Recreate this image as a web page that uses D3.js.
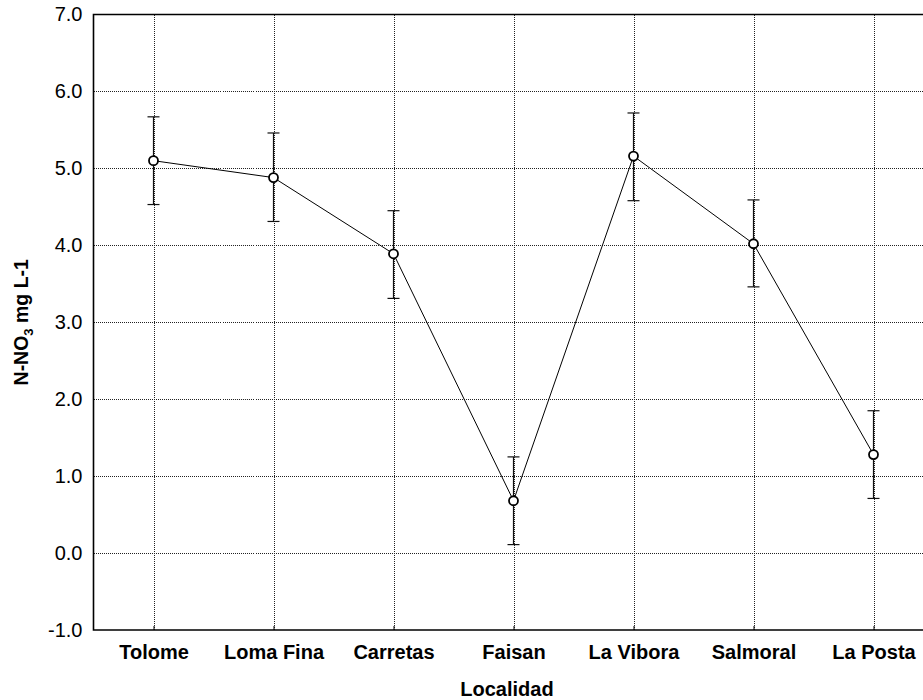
<!DOCTYPE html>
<html>
<head>
<meta charset="utf-8">
<script src="https://cdn.jsdelivr.net/npm/d3@7"></script>
<style>
  html, body { margin: 0; padding: 0; background: #fff; }
  svg { display: block; font-family: "Liberation Sans", Arial, sans-serif; }
</style>
</head>
<body>
<svg id="chart" width="923" height="700"></svg>
<script>
// Nitrate nitrogen (N-NO3) by locality: mean with interval bars
const categories = ["Tolome", "Loma Fina", "Carretas", "Faisan", "La Vibora", "Salmoral", "La Posta"];
const means = [5.10, 4.88, 3.89, 0.68, 5.16, 4.02, 1.28];
const lower = [4.53, 4.31, 3.31, 0.11, 4.58, 3.46, 0.71];
const upper = [5.67, 5.46, 4.45, 1.25, 5.72, 4.59, 1.85];
const yTicks = [-1, 0, 1, 2, 3, 4, 5, 6, 7];

(function draw() {
  const rows = categories.map((c, i) => ({ c, m: means[i], lo: lower[i], hi: upper[i] }));

  const svg = d3.select("#chart");
  const pLeft = 93.5, pRight = 933.5, pTop = 14.5, pBottom = 630;

  const x = d3.scalePoint().domain(categories).range([pLeft, pRight]).padding(0.5);
  const y = d3.scaleLinear().domain([-1, 7]).range([pBottom, pTop]);

  // grid
  const grid = svg.append("g").attr("stroke", "#222").attr("stroke-width", 1)
    .attr("stroke-dasharray", "1,1").attr("shape-rendering", "crispEdges");
  grid.selectAll("line.h").data(yTicks.filter(d => d > -1 && d < 7)).join("line")
    .attr("x1", pLeft).attr("x2", pRight)
    .attr("y1", d => Math.round(y(d)) + 0.5).attr("y2", d => Math.round(y(d)) + 0.5);
  grid.selectAll("line.v").data(categories).join("line")
    .attr("x1", d => Math.round(x(d)) + 0.5).attr("x2", d => Math.round(x(d)) + 0.5)
    .attr("y1", pTop).attr("y2", pBottom);

  // y axis
  const yAxis = svg.append("g").attr("transform", `translate(${pLeft},0)`)
    .call(d3.axisLeft(y).tickValues(yTicks).tickSize(0).tickPadding(11)
      .tickFormat(d => d.toFixed(1)));
  yAxis.select(".domain").remove();
  yAxis.selectAll("text").attr("font-size", 20).attr("fill", "#000")
    .attr("font-family", "Liberation Sans, Arial, sans-serif");

  // x axis
  const xAxis = svg.append("g").attr("transform", `translate(0,${pBottom})`)
    .call(d3.axisBottom(x).tickSize(-4).tickPadding(15));
  xAxis.select(".domain").remove();
  xAxis.selectAll(".tick line").attr("stroke", "#000");
  xAxis.selectAll("text").attr("font-size", 20).attr("font-weight", "bold").attr("fill", "#000")
    .attr("font-family", "Liberation Sans, Arial, sans-serif");

  // frame: left, bottom, top
  svg.append("path")
    .attr("d", `M${pRight},${pTop}H${pLeft}V${pBottom}H${pRight}`)
    .attr("fill", "none").attr("stroke", "#000").attr("stroke-width", 1.6);

  // connecting line
  svg.append("path").datum(rows)
    .attr("d", d3.line().x(d => x(d.c)).y(d => y(d.m)))
    .attr("fill", "none").attr("stroke", "#000").attr("stroke-width", 1);

  // interval bars
  const bars = svg.append("g").attr("stroke", "#111").attr("stroke-width", 1.2);
  bars.selectAll("line.w").data(rows).join("line")
    .attr("x1", d => x(d.c)).attr("x2", d => x(d.c))
    .attr("y1", d => y(d.lo)).attr("y2", d => y(d.hi));
  bars.selectAll("line.t").data(rows).join("line")
    .attr("x1", d => x(d.c) - 6).attr("x2", d => x(d.c) + 6)
    .attr("y1", d => y(d.hi)).attr("y2", d => y(d.hi));
  bars.selectAll("line.b").data(rows).join("line")
    .attr("x1", d => x(d.c) - 6).attr("x2", d => x(d.c) + 6)
    .attr("y1", d => y(d.lo)).attr("y2", d => y(d.lo));

  // mean markers
  svg.append("g").selectAll("circle").data(rows).join("circle")
    .attr("cx", d => x(d.c)).attr("cy", d => y(d.m)).attr("r", 4.5)
    .attr("fill", "#fff").attr("stroke", "#000").attr("stroke-width", 1.8);

  // axis titles
  svg.append("text").attr("x", (pLeft + pRight) / 2 - 6.5).attr("y", 696)
    .attr("text-anchor", "middle").attr("font-size", 20).attr("font-weight", "bold")
    .text("Localidad");

  const yt = svg.append("text")
    .attr("transform", `translate(28,${(pTop + pBottom) / 2}) rotate(-90)`)
    .attr("text-anchor", "middle").attr("font-size", 19.5).attr("font-weight", "bold");
  yt.append("tspan").text("N-NO");
  yt.append("tspan").attr("font-size", 13).attr("dy", 5).text("3");
  yt.append("tspan").attr("dy", -5).text(" mg L-1");
})();
</script>
</body>
</html>
